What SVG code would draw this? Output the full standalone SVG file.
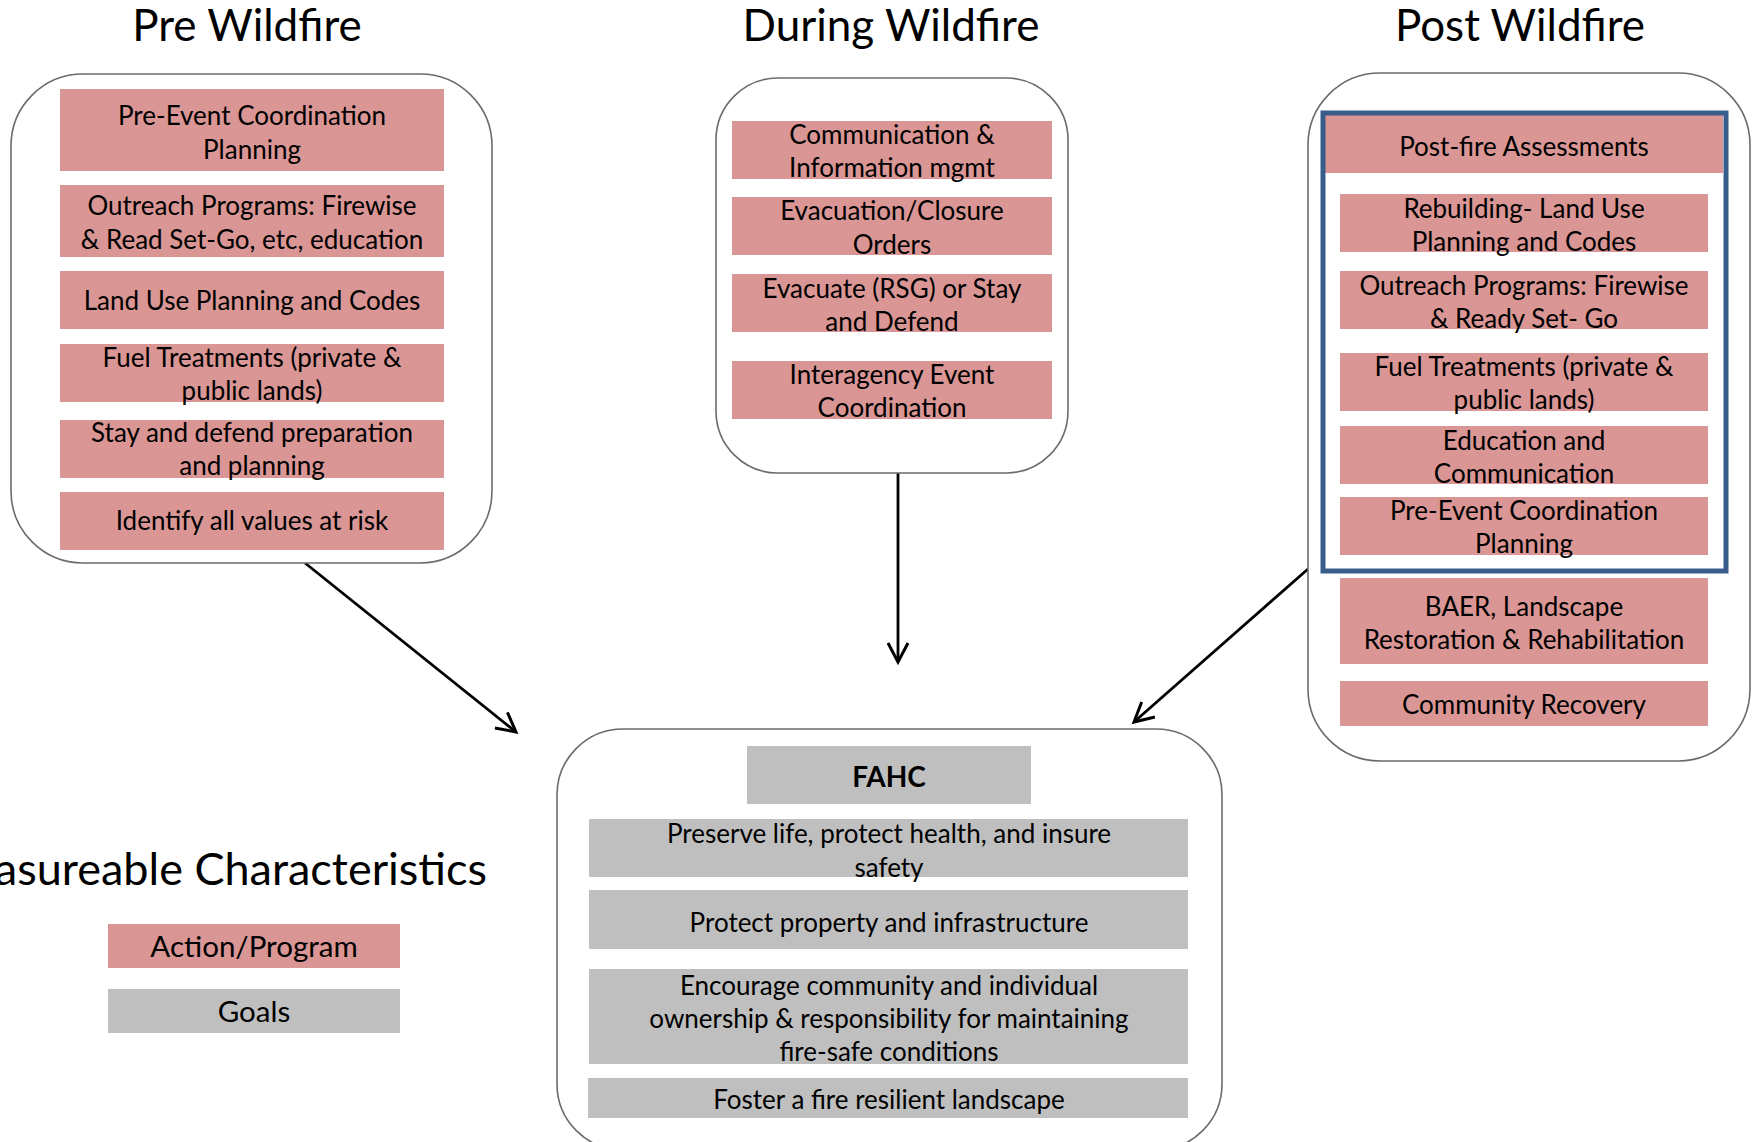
<svg xmlns="http://www.w3.org/2000/svg" width="1756" height="1142" viewBox="0 0 1756 1142">
  <defs>
    <style>
      text { font-family: Lato, "Liberation Sans", sans-serif; fill: #000; text-anchor: middle; }
      .title { font-size: 44px; }
      .lbl { font-size: 26px; }
      .key { font-size: 29.5px; }
      .bold { font-weight: bold; font-size: 28px; }
      .frame { fill: #fff; stroke: #6b6b6b; stroke-width: 1.6; }
      .act { fill: #D99694; }
      .goal { fill: #BFBFBF; }
      .blue { fill: none; stroke: #385D8A; stroke-width: 5; }
      .conn { stroke: #000; stroke-width: 2.8; fill: none; }
    </style>
    <marker id="arrow" viewBox="-24 -14 28 28" refX="0" refY="0" markerWidth="28" markerHeight="28" markerUnits="userSpaceOnUse" orient="auto">
      <path d="M-19,-10 L0,0 L-19,10" fill="none" stroke="#000" stroke-width="3" stroke-linejoin="miter"/>
    </marker>
  </defs>

  <rect width="1756" height="1142" fill="#fff"/>

  <!-- phase headings -->
  <text class="title" x="247" y="41">Pre Wildfire</text>
  <text class="title" x="891" y="41">During Wildfire</text>
  <text class="title" x="1520" y="41">Post Wildfire</text>

  <!-- connectors -->
  <g id="connectors">
    <line class="conn" x1="305" y1="563" x2="516" y2="732" marker-end="url(#arrow)"/>
    <line class="conn" x1="898" y1="473" x2="898" y2="662" marker-end="url(#arrow)"/>
    <line class="conn" x1="1308" y1="569" x2="1134" y2="722" marker-end="url(#arrow)"/>
  </g>

  <!-- Pre wildfire phase -->
  <g id="pre-wildfire">
    <rect class="frame" x="11" y="74" width="481" height="489" rx="72" ry="72"/>
    <rect class="act" x="60" y="89" width="384" height="82"/>
    <text class="lbl" x="252" y="124.5">Pre-Event Coordination</text>
    <text class="lbl" x="252" y="158.5">Planning</text>
    <rect class="act" x="60" y="185" width="384" height="72"/>
    <text class="lbl" x="252" y="214.5">Outreach Programs: Firewise</text>
    <text class="lbl" x="252" y="248.5">&amp; Read Set-Go, etc, education</text>
    <rect class="act" x="60" y="271" width="384" height="58"/>
    <text class="lbl" x="252" y="309.5">Land Use Planning and Codes</text>
    <rect class="act" x="60" y="344" width="384" height="58"/>
    <text class="lbl" x="252" y="366.5">Fuel Treatments (private &amp;</text>
    <text class="lbl" x="252" y="399.5">public lands)</text>
    <rect class="act" x="60" y="420" width="384" height="58"/>
    <text class="lbl" x="252" y="441.5">Stay and defend preparation</text>
    <text class="lbl" x="252" y="474.5">and planning</text>
    <rect class="act" x="60" y="492" width="384" height="58"/>
    <text class="lbl" x="252" y="529.5">Identify all values at risk</text>
  </g>

  <!-- During wildfire phase -->
  <g id="during-wildfire">
    <rect class="frame" x="716" y="78" width="352" height="395" rx="62" ry="62"/>
    <rect class="act" x="732" y="121" width="320" height="58"/>
    <text class="lbl" x="892" y="143.5">Communication &amp;</text>
    <text class="lbl" x="892" y="176.5">Information mgmt</text>
    <rect class="act" x="732" y="197" width="320" height="58"/>
    <text class="lbl" x="892" y="219.5">Evacuation/Closure</text>
    <text class="lbl" x="892" y="253.5">Orders</text>
    <rect class="act" x="732" y="274" width="320" height="58"/>
    <text class="lbl" x="892" y="297.5">Evacuate (RSG) or Stay</text>
    <text class="lbl" x="892" y="330.5">and Defend</text>
    <rect class="act" x="732" y="361" width="320" height="58"/>
    <text class="lbl" x="892" y="383.5">Interagency Event</text>
    <text class="lbl" x="892" y="416.5">Coordination</text>
  </g>

  <!-- Post wildfire phase -->
  <g id="post-wildfire">
    <rect class="frame" x="1308" y="73" width="442" height="688" rx="72" ry="72"/>
    <rect class="act" x="1325" y="115" width="398" height="58"/>
    <rect class="blue" x="1323" y="113" width="403" height="458"/>
    <text class="lbl" x="1524" y="155.5">Post-fire Assessments</text>
    <rect class="act" x="1340" y="194" width="368" height="58"/>
    <text class="lbl" x="1524" y="217.5">Rebuilding- Land Use</text>
    <text class="lbl" x="1524" y="250.5">Planning and Codes</text>
    <rect class="act" x="1340" y="271" width="368" height="58"/>
    <text class="lbl" x="1524" y="294.5">Outreach Programs: Firewise</text>
    <text class="lbl" x="1524" y="327.5">&amp; Ready Set- Go</text>
    <rect class="act" x="1340" y="353" width="368" height="58"/>
    <text class="lbl" x="1524" y="375.5">Fuel Treatments (private &amp;</text>
    <text class="lbl" x="1524" y="408.5">public lands)</text>
    <rect class="act" x="1340" y="426" width="368" height="58"/>
    <text class="lbl" x="1524" y="449.5">Education and</text>
    <text class="lbl" x="1524" y="482.5">Communication</text>
    <rect class="act" x="1340" y="497" width="368" height="58"/>
    <text class="lbl" x="1524" y="519.5">Pre-Event Coordination</text>
    <text class="lbl" x="1524" y="552.5">Planning</text>
    <rect class="act" x="1340" y="578" width="368" height="86"/>
    <text class="lbl" x="1524" y="615.5">BAER, Landscape</text>
    <text class="lbl" x="1524" y="648.5">Restoration &amp; Rehabilitation</text>
    <rect class="act" x="1340" y="681" width="368" height="45"/>
    <text class="lbl" x="1524" y="713.5">Community Recovery</text>
  </g>

  <!-- FAHC goals -->
  <g id="fahc">
    <rect class="frame" x="557" y="729" width="665" height="421" rx="66" ry="66"/>
    <rect class="goal" x="747" y="746" width="284" height="58"/>
    <text class="bold" x="889" y="787">FAHC</text>
    <rect class="goal" x="589" y="819" width="599" height="58"/>
    <text class="lbl" x="889" y="842.5">Preserve life, protect health, and insure</text>
    <text class="lbl" x="889" y="876.5">safety</text>
    <rect class="goal" x="589" y="890" width="599" height="59"/>
    <text class="lbl" x="889" y="931.5">Protect property and infrastructure</text>
    <rect class="goal" x="589" y="969" width="599" height="95"/>
    <text class="lbl" x="889" y="994.5">Encourage community and individual</text>
    <text class="lbl" x="889" y="1027.5">ownership &amp; responsibility for maintaining</text>
    <text class="lbl" x="889" y="1060.5">fire-safe conditions</text>
    <rect class="goal" x="588" y="1078" width="600" height="40"/>
    <text class="lbl" x="889" y="1109">Foster a fire resilient landscape</text>
  </g>

  <!-- legend -->
  <g id="legend">
    <text class="title" x="487" y="885" style="text-anchor:end; font-size:45px">Measureable Characteristics</text>
    <rect class="act" x="108" y="924" width="292" height="44"/>
    <text class="key" x="254" y="957">Action/Program</text>
    <rect class="goal" x="108" y="989" width="292" height="44"/>
    <text class="key" x="254" y="1022">Goals</text>
  </g>
</svg>
